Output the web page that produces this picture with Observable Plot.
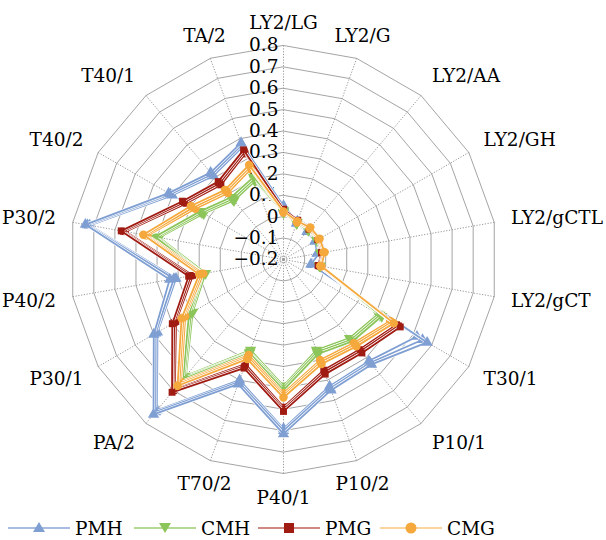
<!DOCTYPE html>
<html><head><meta charset="utf-8">
<script src="https://cdn.jsdelivr.net/npm/d3@7"></script>
<script src="https://cdn.jsdelivr.net/npm/@observablehq/plot@0.6"></script>
<style>
body{margin:0;background:#fff;font-family:"DejaVu Serif",serif;}
#chart svg{display:block;}
#legend{position:relative;height:24px;margin-top:4px;font-size:18.5px;}
.item{position:absolute;top:0;display:flex;align-items:center;height:24px;}
.item span{margin-left:5px;}
</style></head><body>
<div id="chart"></div>
<div id="legend"></div>
<script>
const categories = ["LY2/LG","LY2/G","LY2/AA","LY2/GH","LY2/gCTL","LY2/gCT","T30/1","P10/1","P10/2","P40/1","T70/2","PA/2","P30/1","P40/2","P30/2","T40/2","T40/1","TA/2"];
const tickValues = [-0.2,-0.1,0,0.1,0.2,0.3,0.4,0.5,0.6,0.7,0.8];
const tickLabels = ["\u22120.2","\u22120.1","0","0.1","0.2","0.3","0.4","0.5","0.6","0.7","0.8"];
const seriesNames = ["PMH","CMH","PMG","CMG"];

const PMH_a = [0.05,-0.02,-0.03,-0.03,-0.04,-0.06,0.52,0.42,0.43,0.59,0.40,0.72,0.48,0.31,0.72,0.40,0.31,0.36];
const PMH_b = [0.04,-0.02,-0.02,-0.03,-0.04,-0.065,0.55,0.43,0.44,0.60,0.41,0.73,0.49,0.32,0.73,0.41,0.32,0.37];
const PMH_c = [0.05,-0.01,-0.02,-0.02,-0.03,-0.07,0.575,0.44,0.45,0.615,0.42,0.745,0.50,0.34,0.74,0.42,0.33,0.38];

const CMH_a = [0.02,-0.02,-0.02,-0.02,-0.02,-0.03,0.31,0.28,0.25,0.39,0.25,0.51,0.29,0.17,0.39,0.23,0.16,0.19];
const CMH_b = [0.02,-0.02,-0.02,-0.02,-0.025,-0.03,0.32,0.29,0.26,0.40,0.26,0.52,0.30,0.18,0.40,0.24,0.17,0.20];
const CMH_c = [0.03,-0.015,-0.015,-0.015,-0.02,-0.025,0.33,0.30,0.27,0.41,0.265,0.53,0.31,0.185,0.41,0.25,0.18,0.21];

const PMG_a = [0.03,-0.01,-0.015,-0.015,-0.02,-0.035,0.41,0.35,0.35,0.49,0.32,0.59,0.38,0.23,0.55,0.325,0.255,0.325];
const PMG_b = [0.03,-0.01,-0.01,-0.01,-0.02,-0.035,0.42,0.36,0.36,0.50,0.33,0.60,0.39,0.24,0.56,0.335,0.265,0.335];
const PMG_c = [0.035,-0.005,-0.01,-0.01,-0.015,-0.03,0.43,0.37,0.37,0.51,0.34,0.61,0.40,0.25,0.57,0.345,0.275,0.345];

const CMG_a = [0.02,-0.015,-0.01,-0.01,-0.01,-0.025,0.375,0.31,0.30,0.425,0.275,0.545,0.33,0.18,0.445,0.275,0.205,0.25];
const CMG_b = [0.02,-0.015,-0.01,-0.01,-0.01,-0.025,0.385,0.32,0.31,0.435,0.285,0.557,0.34,0.19,0.455,0.287,0.215,0.26];
const CMG_c = [0.025,-0.01,-0.005,-0.005,-0.005,-0.02,0.395,0.33,0.32,0.445,0.295,0.57,0.35,0.20,0.465,0.30,0.225,0.27];

const seriesData = {PMH:[PMH_a,PMH_b,PMH_c], CMH:[CMH_a,CMH_b,CMH_c], PMG:[PMG_a,PMG_b,PMG_c], CMG:[CMG_a,CMG_b,CMG_c]};
const seriesColors = {PMH:"#7f9fd3", CMH:"#8cc55a", PMG:"#a01b12", CMG:"#f5a83c"};
const legendLineColors = {PMH:"#8aa6d6", CMH:"#9bcc6e", PMG:"#c0605a", CMG:"#f8c77e"};
const seriesSymbols = {PMH:"triangle", CMH:"triangle", PMG:"square", CMG:"circle"};
const seriesRotate = {PMH:0, CMH:180, PMG:0, CMG:0};

const W = 606, H = 512, cx = 283, cy = 259, unit = 214;
const font = "DejaVu Serif";
const fs = 18.5;
const rMin = tickValues[0], rMax = tickValues[tickValues.length-1];
const n = categories.length;
const ang = i => 2*Math.PI*i/n;
const pos = (i, v) => ({x: (v - rMin)*Math.sin(ang(i)), y: (v - rMin)*Math.cos(ang(i))});

const rings = tickValues.slice(1).flatMap(t => categories.map((c,i) => ({t, ...pos(i,t)})));
const spokes = categories.map((c,i) => {const a = pos(i,rMin), b = pos(i,rMax); return {x1:a.x,y1:a.y,x2:b.x,y2:b.y};});
const tickRows = tickValues.map((t,k) => ({label: tickLabels[k], y: t - rMin}));

const labelR = 231/unit;
const labelRows = categories.map((c,i) => {
  const s = Math.sin(ang(i)), co = Math.cos(ang(i));
  const side = Math.abs(s) > 0.5;
  const group = side ? (s > 0 ? "right" : "left") : (co > 0 ? "top" : "bottom");
  return {label: c, group, x: labelR*s, y: labelR*co + (side ? co*8/unit : 0)};
});

const marks = [
  Plot.line(rings, {x:"x", y:"y", z:"t", curve:"linear-closed", stroke:"#9a9a9a", strokeWidth:0.9}),
  Plot.link(spokes, {x1:"x1", y1:"y1", x2:"x2", y2:"y2", stroke:"#8a8a8a", strokeWidth:0.9, strokeDasharray:"1.2,1.6"}),
  Plot.text(tickRows, {x: d => 0, y:"y", text:"label", textAnchor:"end", dx:-5, fontSize:fs, fill:"#000", fontFamily:font})
];

for (const s of seriesNames) {
  seriesData[s].forEach((vals, k) => {
    const rows = vals.map((v,i) => ({...pos(i,v)}));
    marks.push(Plot.line(rows, {x:"x", y:"y", curve:"linear-closed", stroke:"white", strokeWidth:3.2}));
    marks.push(Plot.line(rows, {x:"x", y:"y", curve:"linear-closed", stroke:seriesColors[s], strokeWidth:1.8}));
    marks.push(Plot.dot(rows, {x:"x", y:"y", symbol:seriesSymbols[s], rotate:seriesRotate[s], fill:seriesColors[s], r: s === "PMG" ? 3.9 : 4.2}));
  });
}

const groups = {top:["middle","bottom"], bottom:["middle","top"], right:["start","middle"], left:["end","middle"]};
for (const g in groups) {
  marks.push(Plot.text(labelRows.filter(d => d.group === g), {x:"x", y:"y", text:"label", textAnchor:groups[g][0], lineAnchor:groups[g][1], fontSize:fs, fill:"#000", fontFamily:font}));
}

const chart = Plot.plot({
  width: W, height: H, margin: 0,
  x: {domain: [-cx/unit, (W-cx)/unit], axis: null},
  y: {domain: [-(H-cy)/unit, cy/unit], axis: null},
  style: {fontFamily: font, background: "white"},
  marks
});
document.getElementById("chart").appendChild(chart);

// legend
const legendX = {PMH:8, CMH:134, PMG:258, CMG:380};
const legend = document.getElementById("legend");
const symPath = {
  PMH: '<path d="M31,5 L37,15 L25,15 Z" fill="' + seriesColors.PMH + '"/>',
  CMH: '<path d="M25,6 L37,6 L31,16 Z" fill="' + seriesColors.CMH + '"/>',
  PMG: '<rect x="26" y="6" width="10" height="10" fill="' + seriesColors.PMG + '"/>',
  CMG: '<circle cx="31" cy="11" r="5.5" fill="' + seriesColors.CMG + '"/>'
};
for (const s of seriesNames) {
  const div = document.createElement("div");
  div.className = "item";
  div.style.left = legendX[s] + "px";
  div.innerHTML = '<svg width="62" height="22"><line x1="0" y1="11" x2="62" y2="11" stroke="' + legendLineColors[s] + '" stroke-width="1.5"/>' + symPath[s] + '</svg><span>' + s + '</span>';
  legend.appendChild(div);
}
</script>
</body></html>
